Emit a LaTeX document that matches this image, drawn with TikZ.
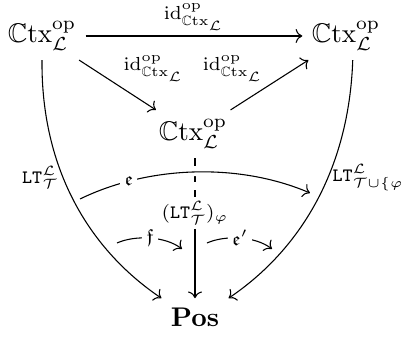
\documentclass[tikz,border=0pt]{standalone}
\usepackage{amssymb}
\usetikzlibrary{arrows.meta}
\newcommand{\ctxop}{\mathbb{C}\mathrm{tx}^{\mathrm{op}}_{\mathcal{L}}}
\newcommand{\idop}{\mathrm{id}^{\mathrm{op}}_{\mathbb{C}\mathrm{tx}_{\mathcal{L}}}}
\begin{document}
\begin{tikzpicture}[x=0.3704pt,y=-0.3704pt,
  >={Computer Modern Rightarrow}, line width=0.4pt,
  lab/.style={font=\scriptsize, inner sep=1.5pt},
  desc/.style={font=\scriptsize, fill=white, inner sep=1.5pt},
  halo/.style={preaction={draw=white, line width=3pt, -}}]
\useasboundingbox (0,0) rectangle (404,337);
\node (A) at (42,36) {$\ctxop$};
\node (B) at (346,36) {$\ctxop$};
\node (C) at (193,134) {$\ctxop$};
\node (D) at (195,317) {$\mathbf{Pos}$};
\node[lab] (M) at (195,213) {$(\mathtt{LT}^{\mathcal{L}}_{\mathcal{T}})_{\varphi}$};
% top arrow
\draw[->] (A) -- node[lab, above=0.5pt] {$\idop$} (B);
% diagonals
\draw[->] (A) -- node[lab, anchor=south west, pos=0.52] {$\idop$} (C);
\draw[->] (C) -- node[lab, anchor=south east, pos=0.48] {$\idop$} (B);
% curves to Pos
\draw[->] (A.south) .. controls (41,170) and (90,250) .. node[lab, pos=0.4, left=0pt] {$\mathtt{LT}^{\mathcal{L}}_{\mathcal{T}}$} (D.north west);
\draw[->] ([xshift=2.5]B.south) .. controls (349,170) and (300,250) .. node[lab, pos=0.4, right=0pt] {$\mathtt{LT}^{\mathcal{L}}_{\mathcal{T}\cup\{\varphi\}}$} (D.north east);
% middle
\draw[dashed] (C.south -| M.north) -- (M.north);
\draw[->] (M) -- (D);
% 2-cells
\coordinate (e1) at (80,199);
\coordinate (e2) at (310,193);
\draw[->, halo] (e1) .. controls (150,165) and (240,163) .. node[desc, pos=0.22] {$\mathfrak{e}$} (e2);
\coordinate (f1) at (117,243);
\coordinate (f2) at (182,249);
\draw[->] (f1) .. controls (135,235) and (165,236) .. node[desc, pos=0.5] {$\mathfrak{f}$} (f2);
\coordinate (g1) at (207,243);
\coordinate (g2) at (272,249);
\draw[->] (g1) .. controls (225,235) and (255,236) .. node[desc, pos=0.5] {$\mathfrak{e}'$} (g2);
\end{tikzpicture}
\end{document}
